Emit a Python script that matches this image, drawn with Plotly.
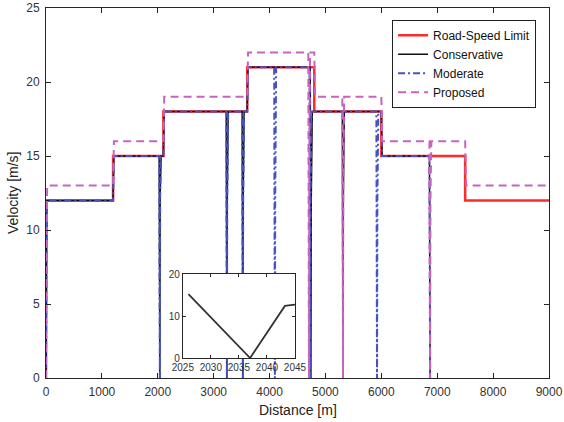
import plotly.graph_objects as go

# ---------------- data ----------------
limit_x = [0, 0, 1200, 1200, 2100, 2100, 3600, 3600, 4800, 4800, 6000, 6000, 7500, 7500, 9000]
limit_y = [0, 12, 12, 15, 15, 18, 18, 21, 21, 18, 18, 15, 15, 12, 12]

cons_x = [0, 15, 1200, 1215, 2025, 2037, 2043, 2045, 2060, 2100, 2115, 3225, 3237, 3243, 3260,
          3510, 3522, 3528, 3545, 3600, 3615, 4728, 4740, 4746, 4765, 5302, 5314, 5320, 5337,
          6000, 6015, 6861, 6873]
cons_y = [0, 12, 12, 15, 15, 0, 12.4, 12.7, 15, 15, 18, 18, 0, 12, 18,
          18, 0, 12, 18, 18, 21, 21, 0, 12, 18, 18, 0, 12, 18,
          18, 15, 15, 0]

mod_x = [0, 15, 1200, 1215, 2025, 2037, 2043, 2045, 2060, 2100, 2115, 3225, 3237, 3243, 3260,
         3510, 3522, 3528, 3545, 3600, 3615, 4083, 4095, 4101, 4118, 4715, 4727, 4733, 4752,
         5911, 5923, 5929, 5946, 6000, 6015, 6861, 6873]
mod_y = [0, 12, 12, 15, 15, 0, 12.4, 12.7, 15, 15, 18, 18, 0, 12, 18,
         18, 0, 12, 18, 18, 21, 21, 0, 12, 21, 21, 0, 12, 18,
         18, 0, 12, 18, 18, 15, 15, 0]

prop_x = [0, 20, 1200, 1215, 2100, 2115, 3600, 3615, 4693, 4705, 4711, 4725, 4800, 4815,
          5302, 5314, 5320, 5335, 6000, 6015, 6861, 6873, 6879, 6895, 7500, 7515, 9000]
prop_y = [0, 13, 13, 16, 16, 19, 19, 22, 22, 0, 14, 22, 22, 19,
          19, 0, 14, 19, 19, 16, 16, 0, 12, 16, 16, 13, 13]

inset_x = [2026, 2037, 2043.2, 2045]
inset_y = [15.2, 0, 12.4, 12.7]
inset_xrange = [2025, 2045]
inset_yrange = [0, 20]

x_ticks = list(range(0, 9001, 1000))
y_ticks = list(range(0, 26, 5))
inset_xticks = [2025, 2030, 2035, 2040, 2045]
inset_yticks = [0, 10, 20]

RED = "#FF2A2A"
BLACK = "#111111"
BLUE = "#4452C4"
PINK = "#C864C0"
AX = "#262626"
FONT = "Liberation Sans, Arial, sans-serif"

fig = go.Figure()
fig.add_trace(go.Scatter(x=limit_x, y=limit_y, mode="lines", name="Road-Speed Limit",
                         line=dict(color=RED, width=2.5)))
fig.add_trace(go.Scatter(x=cons_x, y=cons_y, mode="lines", name="Conservative",
                         line=dict(color=BLACK, width=1.5)))
fig.add_trace(go.Scatter(x=mod_x, y=mod_y, mode="lines", name="Moderate",
                         line=dict(color=BLUE, width=2, dash="7px,3px,2px,3px")))
fig.add_trace(go.Scatter(x=prop_x, y=prop_y, mode="lines", name="Proposed",
                         line=dict(color=PINK, width=2, dash="8px,5px")))

# inset background + line
fig.add_trace(go.Scatter(x=[inset_xrange[0], inset_xrange[1], inset_xrange[1], inset_xrange[0], inset_xrange[0]],
                         y=[inset_yrange[0], inset_yrange[0], inset_yrange[1], inset_yrange[1], inset_yrange[0]],
                         mode="lines", fill="toself", fillcolor="white", line=dict(width=0, color="white"),
                         xaxis="x2", yaxis="y2", showlegend=False, hoverinfo="skip"))
fig.add_trace(go.Scatter(x=inset_x, y=inset_y, mode="lines", line=dict(color="#333333", width=1.8),
                         xaxis="x2", yaxis="y2", showlegend=False))

axis_common = dict(showgrid=False, zeroline=False, showline=True, linecolor=AX, linewidth=1,
                   mirror="allticks", ticks="inside", ticklen=5, tickcolor=AX, automargin=False,
                   tickfont=dict(size=12, color="#333333", family=FONT))
inset_common = {**axis_common, "tickfont": dict(size=10, color="#333333", family=FONT), "ticklen": 3}

fig.update_layout(
    width=564, height=422,
    margin=dict(l=46, r=15, t=8, b=44),
    paper_bgcolor="white", plot_bgcolor="white",
    font=dict(family=FONT, color="#222222"),
    xaxis=dict(range=[0, 9000], tickvals=x_ticks, domain=[0, 1], ticklabelstandoff=3, **axis_common),
    yaxis=dict(range=[0, 25], tickvals=y_ticks, domain=[0, 1], ticklabelstandoff=3, **axis_common),
    xaxis2=dict(range=inset_xrange, tickvals=inset_xticks, domain=[0.272, 0.495], anchor="y2", **inset_common),
    yaxis2=dict(range=inset_yrange, tickvals=inset_yticks, domain=[0.054, 0.281], anchor="x2", **inset_common),
    legend=dict(x=0.688, y=0.968, xanchor="left", yanchor="top", bgcolor="white",
                bordercolor="#222222", borderwidth=1, font=dict(size=12, family=FONT, color="#111111"),
                tracegroupgap=0, itemwidth=30),
    showlegend=True,
    annotations=[
        dict(text="Distance [m]", xref="paper", yref="paper", x=0.5, y=0, xanchor="center",
             yanchor="middle", yshift=-32, showarrow=False, font=dict(size=14, family=FONT, color="#222222")),
        dict(text="Velocity [m/s]", xref="paper", yref="paper", x=0, y=0.5, xanchor="center",
             yanchor="middle", xshift=-33, textangle=-90, showarrow=False,
             font=dict(size=14, family=FONT, color="#222222")),
    ],
)

fig.write_html("out.html", config={"displayModeBar": False},
               post_script="document.body.style.margin='0';")
